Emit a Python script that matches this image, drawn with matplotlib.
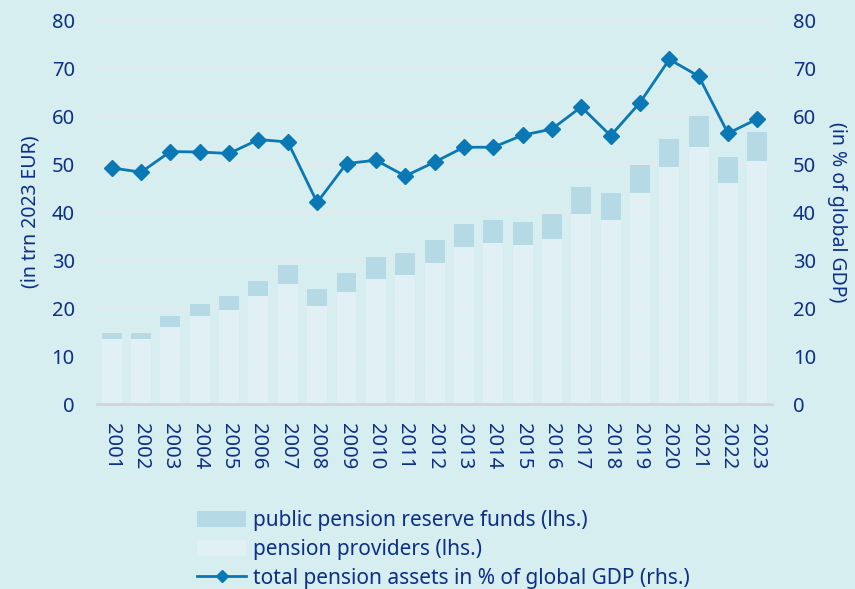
import matplotlib
matplotlib.use("Agg")
import matplotlib.pyplot as plt
from matplotlib.lines import Line2D
from matplotlib.patches import Patch
import numpy as np

years = [str(y) for y in range(2001, 2024)]
pension_providers = [13.6, 13.6, 16.1, 18.3, 19.6, 22.6, 25.1, 20.5, 23.4, 26.0, 26.8,
                     29.4, 32.8, 33.6, 33.2, 34.4, 39.6, 38.3, 43.9, 49.4, 53.6, 46.0, 50.7]
total_lhs = [14.9, 14.9, 18.3, 20.8, 22.6, 25.6, 29.0, 23.9, 27.2, 30.6, 31.5,
             34.1, 37.5, 38.3, 37.9, 39.6, 45.2, 43.9, 49.8, 55.3, 60.0, 51.5, 56.7]
reserve_funds = [round(t - p, 1) for t, p in zip(total_lhs, pension_providers)]
assets_pct_gdp = [49.2, 48.3, 52.6, 52.5, 52.2, 55.1, 54.6, 42.0, 50.1, 50.8, 47.5,
                  50.4, 53.5, 53.5, 56.0, 57.3, 61.9, 55.9, 62.8, 71.8, 68.3, 56.4, 59.4]

BG = "#d7eef1"
NAVY = "#0b2f8a"
C_PROV = "#e1f0f4"
C_RES = "#b5d9e5"
C_LINE = "#0a78b4"
GRID = "#e6e9ea"

plt.rcParams["font.family"] = ["Noto Sans", "DejaVu Sans"]
plt.rcParams["font.size"] = 14

fig = plt.figure(figsize=(8.55, 5.89), dpi=100, facecolor=BG)
ax = fig.add_axes([0.1135, 0.314, 0.7895, 0.652])
ax.set_facecolor(BG)
ax2 = ax.twinx()

x = np.arange(len(years))
w = 0.68
ax.bar(x, pension_providers, width=w, color=C_PROV, zorder=2)
ax.bar(x, reserve_funds, width=w, bottom=pension_providers, color=C_RES, zorder=2)

ax2.plot(x, assets_pct_gdp, color=C_LINE, lw=2, marker="D", markersize=8.5, zorder=3)

for a in (ax, ax2):
    a.set_ylim(0, 80)
    a.set_yticks(range(0, 81, 10))
    for s in a.spines.values():
        s.set_visible(False)
    a.tick_params(axis="y", length=0, colors=NAVY, labelsize=14.5)
ax.set_xlim(-0.5, len(years) - 0.5)
ax.spines["bottom"].set_visible(True)
ax.spines["bottom"].set_color("#d4d4d4")
ax.spines["bottom"].set_linewidth(2)
ax.yaxis.grid(True, color=GRID, lw=1.5, zorder=0)
ax.set_axisbelow(True)
ax.tick_params(axis="y", pad=16)
ax2.tick_params(axis="y", pad=15)

ax.set_xticks(x)
ax.set_xticklabels(years, rotation=-90, color=NAVY, fontsize=14.5)
ax.tick_params(axis="x", length=0, pad=14)

ax.set_ylabel("(in trn 2023 EUR)", color=NAVY, fontsize=14, labelpad=8)
ax2.set_ylabel("(in % of global GDP)", color=NAVY, fontsize=14, rotation=-90,
               labelpad=22)

handles = [
    Patch(facecolor=C_RES, edgecolor="none"),
    Patch(facecolor=C_PROV, edgecolor="none"),
    Line2D([0], [0], color=C_LINE, lw=2, marker="D", markersize=6),
]
labels = ["public pension reserve funds (lhs.)", "pension providers (lhs.)",
          "total pension assets in % of global GDP (rhs.)"]
leg = fig.legend(handles, labels, loc="lower left", bbox_to_anchor=(0.209, -0.032),
                 frameon=False, handlelength=2.35, handleheight=0.8, handletextpad=0.3,
                 labelspacing=0.38, fontsize=15, labelcolor=NAVY)

fig.savefig("out.png", dpi=100, facecolor=BG)
